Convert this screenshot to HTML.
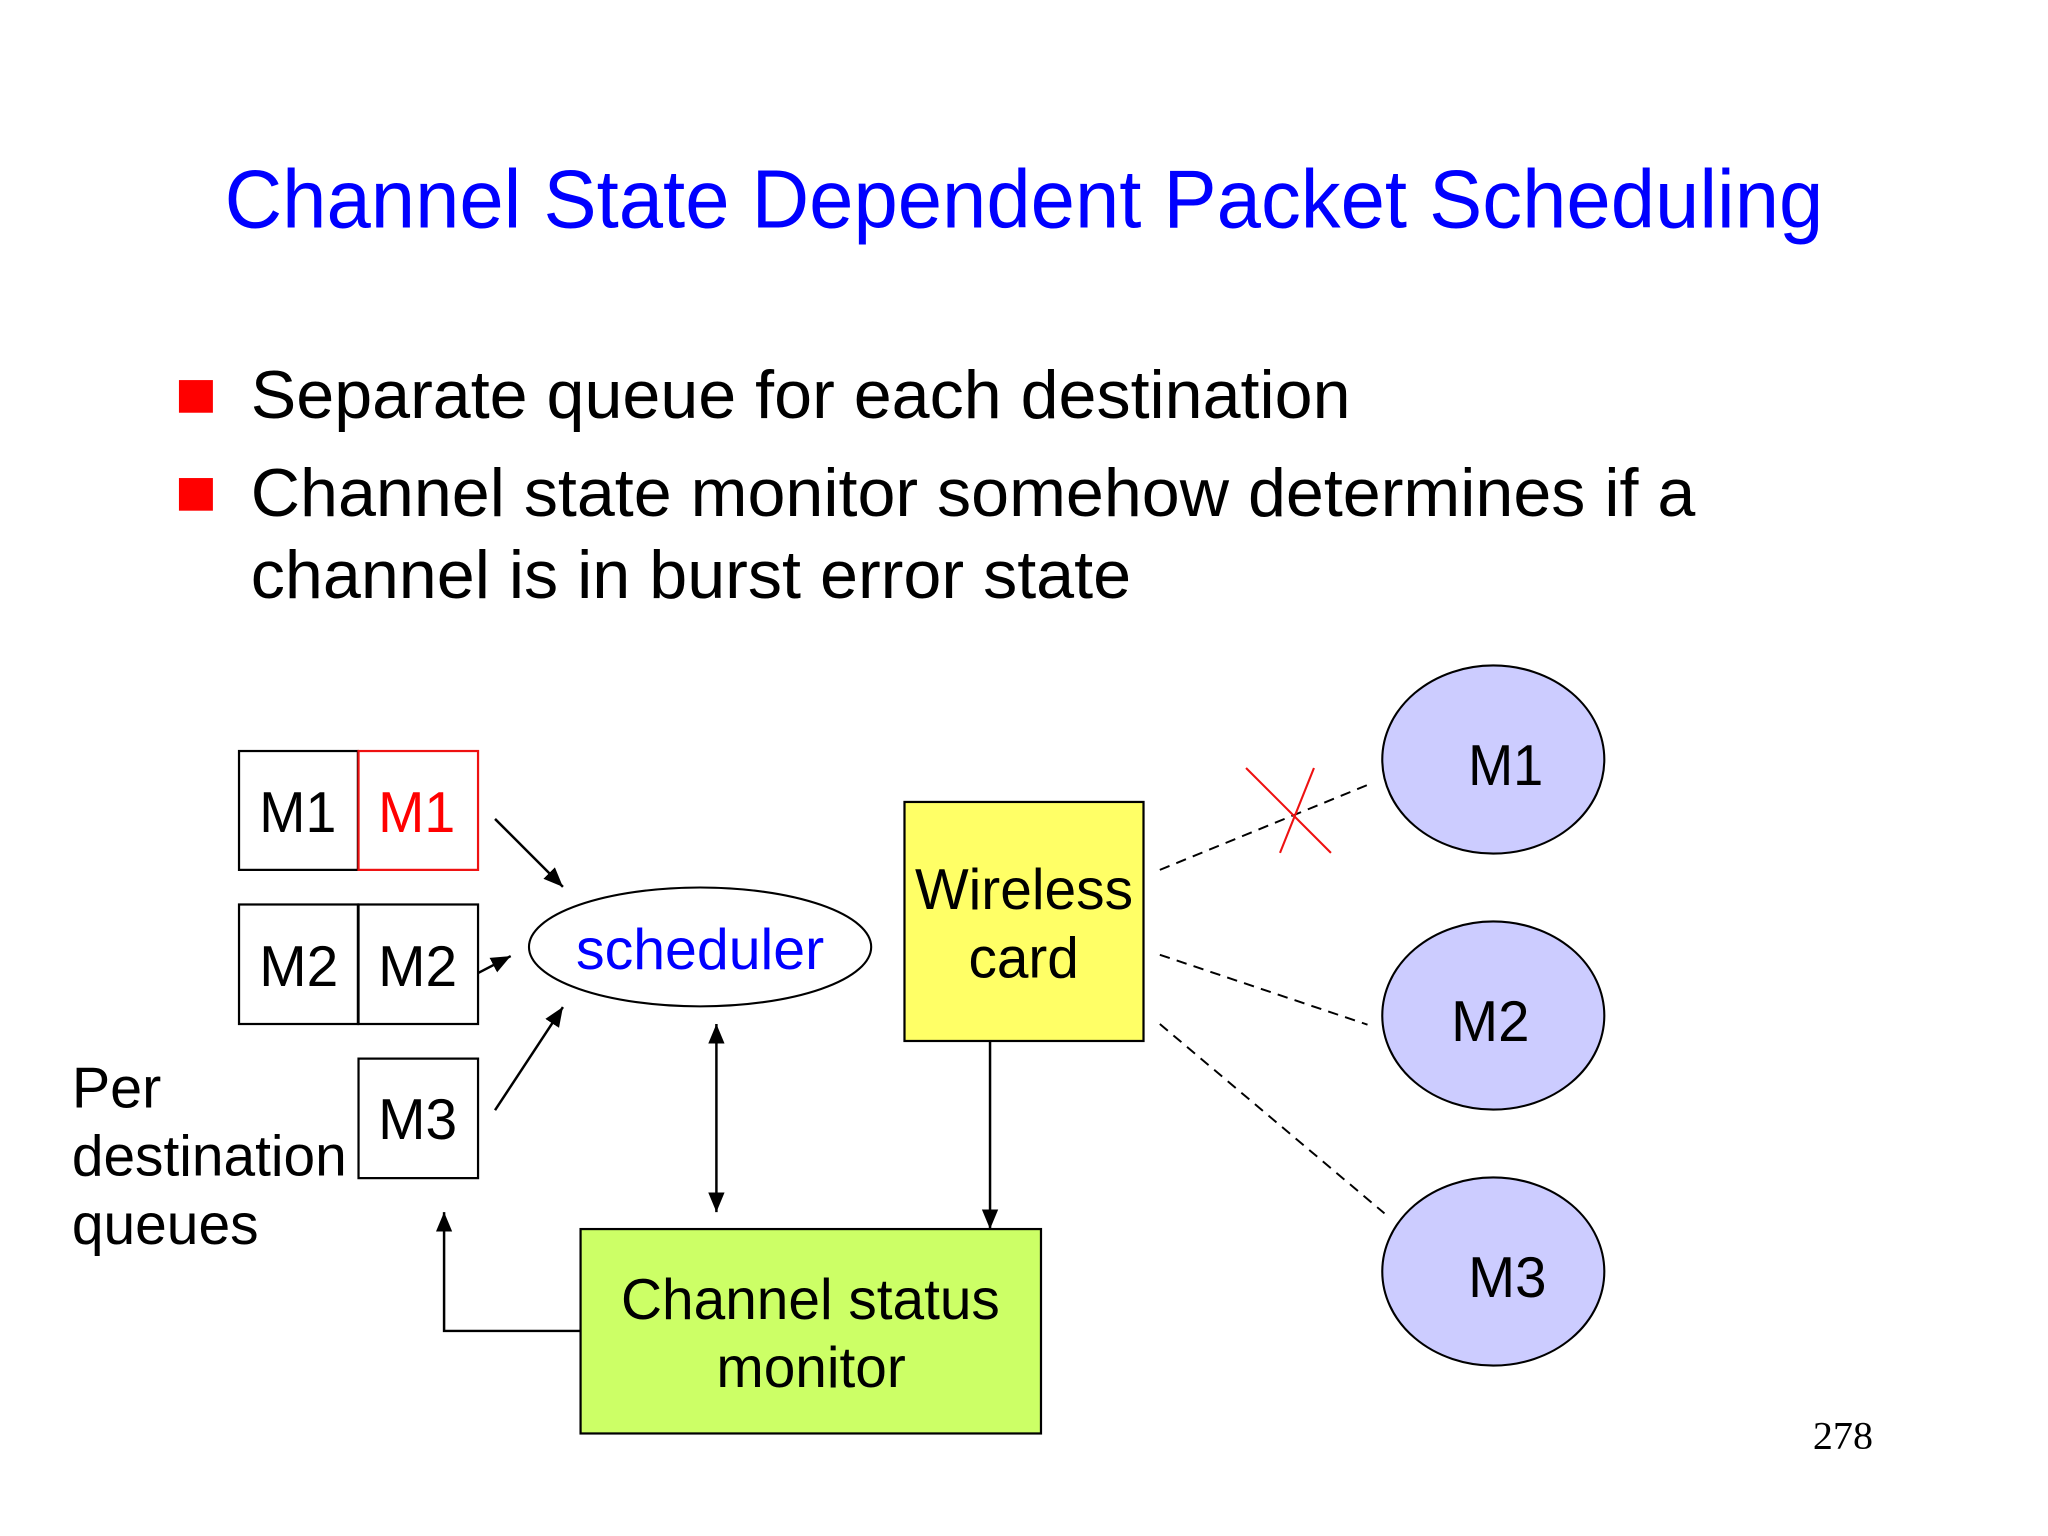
<!DOCTYPE html>
<html><head><meta charset="utf-8"><style>
html,body{margin:0;padding:0;background:#fff}
svg{display:block}
text{font-family:"Liberation Sans",sans-serif;fill:#000}
</style></head><body>
<svg width="2048" height="1536" viewBox="0 0 1568 1176" xmlns="http://www.w3.org/2000/svg">
<defs>
<marker id="a" markerUnits="userSpaceOnUse" markerWidth="15" markerHeight="15" refX="12" refY="6" orient="auto-start-reverse" viewBox="0 0 12 12"><path d="M0 1 L12 6 L0 11 Z" fill="#000"/></marker>
</defs>
<rect width="1568" height="1176" fill="#fff"/>
<text x="172" y="174" font-size="63" style="fill:#0000ff" textLength="1224" lengthAdjust="spacingAndGlyphs">Channel State Dependent Packet Scheduling</text>
<rect x="137" y="291" width="26" height="25" fill="#ff0000"/>
<rect x="137" y="366" width="26" height="25" fill="#ff0000"/>
<text x="192" y="320" font-size="52" textLength="842" lengthAdjust="spacingAndGlyphs">Separate queue for each destination</text>
<text x="192" y="395" font-size="52" textLength="1106" lengthAdjust="spacingAndGlyphs">Channel state monitor somehow determines if a</text>
<text x="192" y="458" font-size="52" textLength="674" lengthAdjust="spacingAndGlyphs">channel is in burst error state</text>

<g fill="none" stroke="#000" stroke-width="1.7">
<rect x="183" y="575" width="91" height="91"/>
<rect x="183" y="692.5" width="91" height="91.5"/>
<rect x="274.5" y="692.5" width="91.5" height="91.5"/>
<rect x="274.5" y="810.5" width="91.5" height="91.5"/>
</g>
<rect x="274.5" y="575" width="91.5" height="91" fill="none" stroke="#ee1111" stroke-width="1.7"/>
<ellipse cx="536" cy="725" rx="131" ry="45.5" fill="#fff" stroke="#000" stroke-width="1.6"/>
<rect x="692.5" y="614" width="183" height="183" fill="#ffff66" stroke="#000" stroke-width="1.7"/>
<rect x="444.5" y="941" width="352.5" height="156.5" fill="#ccff66" stroke="#000" stroke-width="1.7"/>
<g fill="#ccccff" stroke="#000" stroke-width="1.6">
<ellipse cx="1143.3" cy="581.5" rx="85" ry="72"/>
<ellipse cx="1143.3" cy="777.5" rx="85" ry="72"/>
<ellipse cx="1143.3" cy="973.5" rx="85" ry="72"/>
</g>

<g fill="none" stroke="#000" stroke-width="1.9">
<line x1="379" y1="627" x2="431" y2="679" marker-end="url(#a)"/>
<line x1="366" y1="745" x2="391" y2="732" marker-end="url(#a)"/>
<line x1="379" y1="850" x2="431" y2="771" marker-end="url(#a)"/>
<line x1="548.5" y1="784" x2="548.5" y2="928" marker-start="url(#a)" marker-end="url(#a)"/>
<line x1="758" y1="797" x2="758" y2="941" marker-end="url(#a)"/>
<polyline points="444,1019 340,1019 340,928" marker-end="url(#a)"/>
</g>
<g fill="none" stroke="#000" stroke-width="1.5" stroke-dasharray="8 5.6">
<line x1="888" y1="666" x2="1047" y2="601"/>
<line x1="888" y1="731" x2="1047" y2="784.5"/>
<line x1="888" y1="784" x2="1060" y2="929"/>
</g>
<g stroke="#ee1111" stroke-width="1.6" fill="none">
<line x1="954" y1="588" x2="1019" y2="653"/>
<line x1="1006" y1="588" x2="980" y2="653"/>
</g>

<g font-size="44">
<text x="198.5" y="637" textLength="59" lengthAdjust="spacingAndGlyphs">M1</text>
<text x="289.5" y="637" textLength="59" lengthAdjust="spacingAndGlyphs" style="fill:#ff0000">M1</text>
<text x="198.5" y="755" textLength="60.5" lengthAdjust="spacingAndGlyphs">M2</text>
<text x="289.5" y="755" textLength="60.5" lengthAdjust="spacingAndGlyphs">M2</text>
<text x="289.5" y="872" textLength="60.5" lengthAdjust="spacingAndGlyphs">M3</text>
<text x="55" y="848" textLength="68.5" lengthAdjust="spacingAndGlyphs">Per</text>
<text x="55" y="900" textLength="210.5" lengthAdjust="spacingAndGlyphs">destination</text>
<text x="55" y="952.5" textLength="143" lengthAdjust="spacingAndGlyphs">queues</text>
<text x="441" y="742" textLength="190" lengthAdjust="spacingAndGlyphs" style="fill:#0000ff">scheduler</text>
<text x="700.5" y="696" textLength="167" lengthAdjust="spacingAndGlyphs">Wireless</text>
<text x="741.5" y="748.5" textLength="84.5" lengthAdjust="spacingAndGlyphs">card</text>
<text x="475.5" y="1010" textLength="290" lengthAdjust="spacingAndGlyphs">Channel status</text>
<text x="548.5" y="1062" textLength="145" lengthAdjust="spacingAndGlyphs">monitor</text>
<text x="1124" y="601" textLength="57.5" lengthAdjust="spacingAndGlyphs">M1</text>
<text x="1111" y="797" textLength="60" lengthAdjust="spacingAndGlyphs">M2</text>
<text x="1124" y="993" textLength="60" lengthAdjust="spacingAndGlyphs">M3</text>
</g>
<text x="1388" y="1109" font-size="30" style="font-family:'Liberation Serif',serif" textLength="46" lengthAdjust="spacingAndGlyphs">278</text>
</svg>
</body></html>
